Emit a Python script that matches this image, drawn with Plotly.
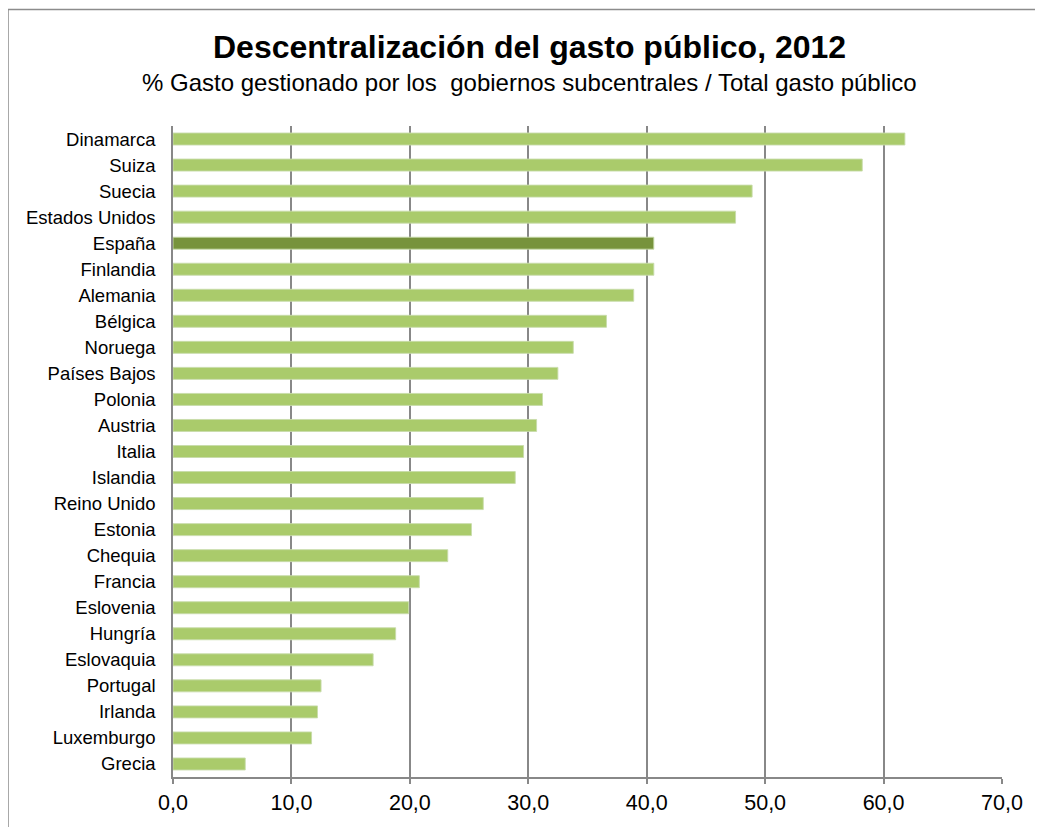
import plotly.graph_objects as go

countries = ["Dinamarca", "Suiza", "Suecia", "Estados Unidos", "España", "Finlandia",
             "Alemania", "Bélgica", "Noruega", "Países Bajos", "Polonia", "Austria",
             "Italia", "Islandia", "Reino Unido", "Estonia", "Chequia", "Francia",
             "Eslovenia", "Hungría", "Eslovaquia", "Portugal", "Irlanda", "Luxemburgo",
             "Grecia"]
values = [61.8, 58.2, 48.9, 47.5, 40.6, 40.6, 38.9, 36.6, 33.8, 32.5, 31.2, 30.7,
          29.6, 28.9, 26.2, 25.2, 23.2, 20.8, 19.9, 18.8, 16.9, 12.5, 12.2, 11.7, 6.1]
highlight = "España"
x_tickvals = [0, 10, 20, 30, 40, 50, 60, 70]
x_ticktext = ["0,0", "10,0", "20,0", "30,0", "40,0", "50,0", "60,0", "70,0"]
title_text = "Descentralización del gasto público, 2012"
subtitle_text = "% Gasto gestionado por los  gobiernos subcentrales / Total gasto público"

LIGHT = "#AACB6B"
DARK = "#77933C"
colors = [DARK if c == highlight else LIGHT for c in countries]

FONT = "Liberation Sans, Arial, sans-serif"
OFF = 8  # page body margin in the browser
W, H = 1043 - OFF, 827 - OFF
ML, MR, MT, MB = 173 - OFF, W - (1002 - OFF), 126 - OFF, H - (780 - OFF)
PW = W - ML - MR
PH = H - MT - MB


def px_to_paper_x(px):
    return (px - OFF - ML) / PW


def px_to_paper_y(py):
    return (H - MB - (py - OFF)) / PH


fig = go.Figure(go.Bar(
    x=values, y=countries, orientation="h",
    marker=dict(color=colors, line=dict(color="rgba(200,220,170,0.9)", width=1)),
    hoverinfo="x+y",
))

fig.update_layout(
    width=W, height=H,
    margin=dict(l=ML, r=MR, t=MT, b=MB, pad=0),
    paper_bgcolor="white", plot_bgcolor="white",
    bargap=0.54,
    showlegend=False,
    font=dict(family=FONT, color="#000000"),
    xaxis=dict(
        range=[0, 70], tickvals=x_tickvals, ticktext=x_ticktext,
        showgrid=True, gridcolor="#888888", gridwidth=1.5,
        zeroline=False, showline=True, linecolor="#888888", linewidth=1.5,
        ticks="outside", ticklen=5, tickcolor="#888888", tickwidth=1.5,
        tickfont=dict(size=21.5, family=FONT, color="#000000"),
        fixedrange=True,
    ),
    yaxis=dict(
        categoryorder="array", categoryarray=countries, autorange="reversed",
        showgrid=False, zeroline=False, showline=True, linecolor="#888888", linewidth=1.5,
        ticks="", ticklabelstandoff=12,
        tickfont=dict(size=18.5, family=FONT, color="#000000"),
        fixedrange=True,
    ),
    annotations=[
        dict(text="<b>" + title_text + "</b>", xref="paper", yref="paper",
             x=px_to_paper_x(529.5), y=px_to_paper_y(47), xanchor="center", yanchor="middle",
             showarrow=False, font=dict(size=32, family=FONT, color="#000000")),
        dict(text=subtitle_text, xref="paper", yref="paper",
             x=px_to_paper_x(529.5), y=px_to_paper_y(82), xanchor="center", yanchor="middle",
             showarrow=False, font=dict(size=24, family=FONT, color="#000000")),
    ],
    shapes=[
        dict(type="rect", xref="paper", yref="paper",
             x0=px_to_paper_x(8), x1=px_to_paper_x(1060),
             y0=px_to_paper_y(850), y1=px_to_paper_y(9),
             line=dict(color="#8c8c8c", width=1.5), fillcolor="rgba(0,0,0,0)", layer="below"),
    ],
)

fig.write_html("out.html")
